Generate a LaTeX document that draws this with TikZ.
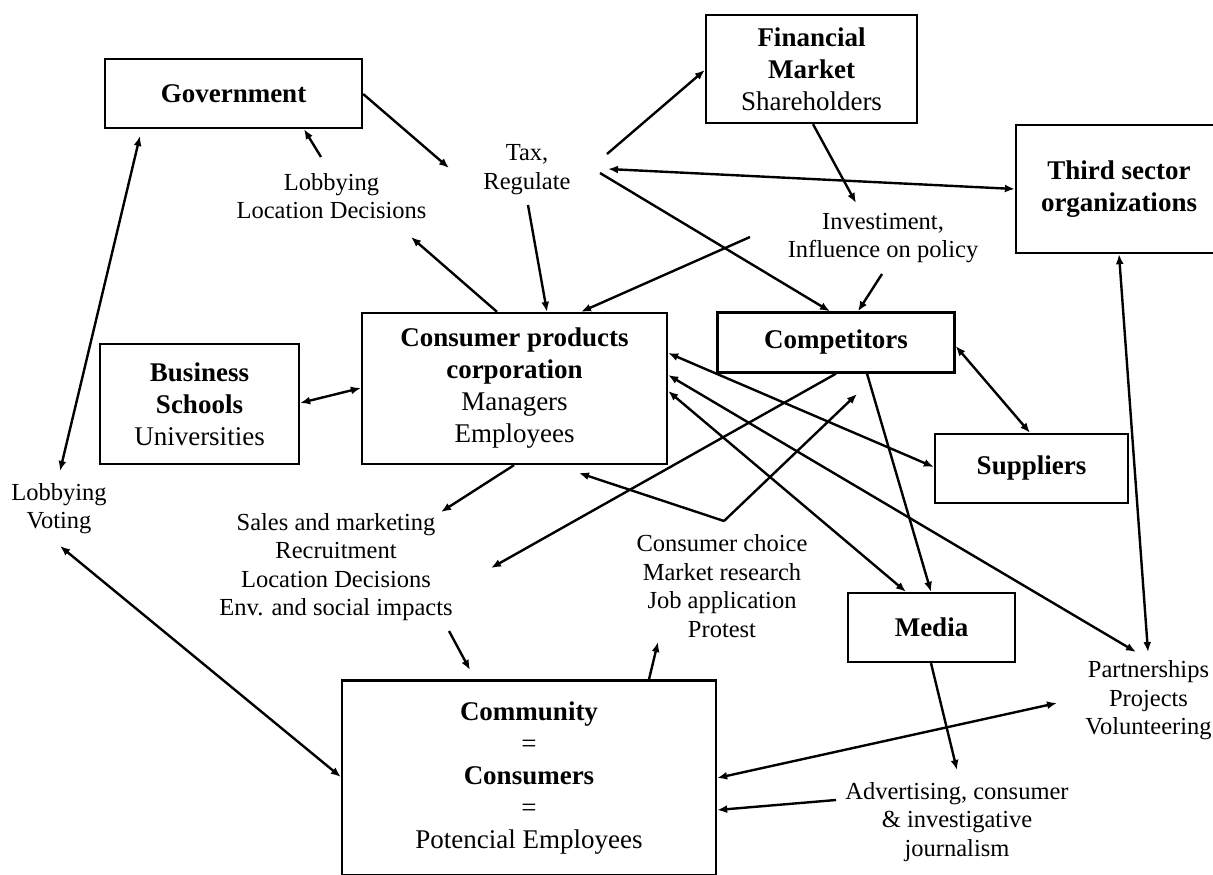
\documentclass[tikz,border=0pt]{standalone}
\usepackage{fontspec}
\setmainfont{Liberation Serif}
\usetikzlibrary{arrows.meta}
\begin{document}
\begin{tikzpicture}[x=1pt,y=-1pt,
  box/.style={draw, line width=2.3pt, inner sep=0pt, align=center, font=\fontsize{27}{32}\selectfont},
  lbl/.style={inner sep=0pt, align=center, font=\fontsize{24.5}{28.5}\selectfont},
  arr/.style={line width=2.4pt, -{Latex[length=10pt,width=8pt]}},
  darr/.style={line width=2.4pt, {Latex[length=10pt,width=8pt]}-{Latex[length=10pt,width=8pt]}}]
\useasboundingbox (0,0) rectangle (1213,875);

% boxes
\node[box, minimum width=257pt, minimum height=69pt] (gov) at (233.5,93.5) {\textbf{Government}};
\node[box, minimum width=211pt, minimum height=108pt] (fin) at (811.5,69) {\textbf{Financial}\\\textbf{Market}\\Shareholders};
\node[box, minimum width=206pt, minimum height=128pt] (third) at (1119,189) {\textbf{Third sector}\\\textbf{organizations}};
\node[box, minimum width=305pt, minimum height=151pt] (cons) at (514.5,388.5) {\textbf{Consumer products}\\\textbf{corporation}\\Managers\\Employees};
\node[box, minimum width=199pt, minimum height=120pt] (bus) at (199.5,404) {\textbf{Business}\\\textbf{Schools}\\Universities};
\node[box, minimum width=237pt, minimum height=60pt] (comp) at (836,342.5) {\textbf{Competitors}};
\node[box, minimum width=193pt, minimum height=69pt] (sup) at (1031.5,468.5) {\textbf{Suppliers}};
\node[box, minimum width=167pt, minimum height=69pt] (media) at (931.5,627.5) {\textbf{Media}};
\node[box, minimum width=374pt, minimum height=195pt] (comm) at (529,778) {\textbf{Community}\\=\\\textbf{Consumers}\\=\\Potencial Employees};

% labels
\node[lbl] (tax) at (527,169.5) {Tax,\\Regulate};
\node[lbl] (lobloc) at (331.5,196) {Lobbying\\Location Decisions};
\node[lbl] (invest) at (883,238) {Investiment,\\Influence on policy};
\node[lbl] (lobvot) at (59,508.5) {Lobbying\\Voting};
\node[lbl] (sales) at (336,567) {Sales and marketing\\Recruitment\\Location Decisions\\Env. and social impacts};
\node[lbl] (choice) at (722,586) {Consumer choice\\Market research\\Job application\\Protest};
\node[lbl] (partner) at (1148.5,700.5) {Partnerships\\Projects\\Volunteering};
\node[lbl] (advert) at (957,822) {Advertising, consumer\\\& investigative\\journalism};

% connector end points
\coordinate (taxIn) at (449,168);
\coordinate (lobUp) at (321,157);
\coordinate (lobDn) at (411,237);
\coordinate (taxDn) at (528,205);
\coordinate (taxUR) at (607,154);
\coordinate (taxR) at (608,169);
\coordinate (taxDR) at (600,173);
\coordinate (invUp) at (856,203);
\coordinate (invDn) at (882,274);
\coordinate (invL) at (750,237);
\coordinate (govB) at (140,136);
\coordinate (votUp) at (60,471);
\coordinate (votDn) at (60,546);
\coordinate (salesUp) at (441,512);
\coordinate (salesR) at (491,568);
\coordinate (envDn) at (449,631);
\coordinate (commTop) at (470,670);
\coordinate (vee) at (724,521);
\coordinate (consB) at (579,473);
\coordinate (compB) at (857,394);
\coordinate (choiceDn) at (658,642);
\coordinate (partUL) at (1136,652);
\coordinate (partUp) at (1148,652);
\coordinate (partL) at (1057,703);
\coordinate (advUp) at (957,770);
\coordinate (advL) at (836,800);

% connectors
\draw[arr] (gov.east |- 0,94) -- (taxIn);
\draw[arr] (lobUp) -- (304,0 |- gov.south);
\draw[arr] (497,0 |- cons.north) -- (lobDn);
\draw[arr] (taxDn) -- (547,0 |- cons.north);
\draw[arr] (taxUR) -- (fin.west |- 0,70);
\draw[darr] (taxR) -- (third.west |- 0,189);
\draw[arr] (taxDR) -- (830,0 |- comp.north);
\draw[arr] (813,0 |- fin.south) -- (invUp);
\draw[arr] (invDn) -- (858,0 |- comp.north);
\draw[arr] (invL) -- (581,0 |- cons.north);
\draw[darr] (bus.east |- 0,403) -- (cons.west |- 0,388);
\draw[darr] (govB) -- (votUp);
\draw[darr] (votDn) -- (comm.west |- 0,777);
\draw[arr] (514,0 |- cons.south) -- (salesUp);
\draw[arr] (836,0 |- comp.south) -- (salesR);
\draw[arr] (envDn) -- (commTop);
\draw[arr] (vee) -- (consB);
\draw[arr] (vee) -- (compB);
\draw[arr] (649,0 |- comm.north) -- (choiceDn);
\draw[darr] (cons.east |- 0,353) -- (sup.west |- 0,467);
\draw[darr] (cons.east |- 0,375) -- (partUL);
\draw[darr] (cons.east |- 0,391) -- (906,0 |- media.north);
\draw[arr] (867,0 |- comp.south) -- (931,0 |- media.north);
\draw[darr] (comp.east |- 0,346) -- (1030,0 |- sup.north);
\draw[darr] (1119,0 |- third.south) -- (partUp);
\draw[darr] (comm.east |- 0,778) -- (partL);
\draw[arr] (931,0 |- media.south) -- (advUp);
\draw[arr] (advL) -- (comm.east |- 0,810);
\end{tikzpicture}
\end{document}
